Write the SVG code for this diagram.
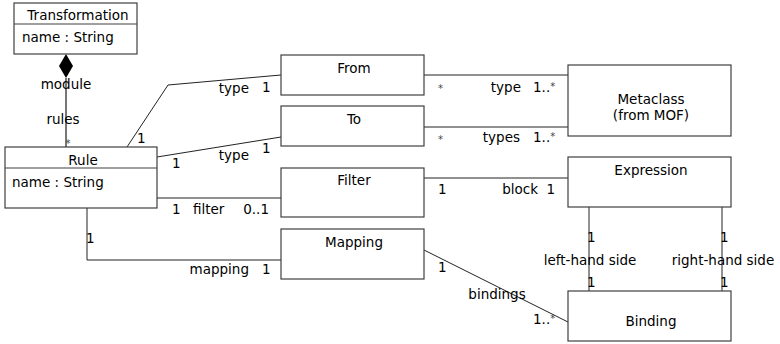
<svg xmlns="http://www.w3.org/2000/svg" width="780" height="344" viewBox="0 0 780 344">
  <style>
    .box { fill: #fff; stroke: #404040; stroke-width: 1.2; }
    .div { stroke: #404040; stroke-width: 1.2; }
    .ln { fill: none; stroke: #222; stroke-width: 1; }
    text { font-family: "DejaVu Sans", "Liberation Sans", sans-serif; font-size: 13.5px; fill: #000; }
    .c { text-anchor: middle; }
    .e { text-anchor: end; }
    .star { font-size: 10px; fill: #444; }
  </style>
  <rect width="780" height="344" fill="#fff"/>

  <!-- associations -->
  <g id="connectors">
    <!-- composition Transformation <>- Rule -->
    <line x1="66" y1="78" x2="66" y2="147" stroke="#777" stroke-width="2"/>
    <polygon points="66,54 73,66 66,78 59,66" fill="#000"/>
    <text class="c" x="66" y="89">module</text>
    <text class="c" x="63" y="124">rules</text>
    <text class="c star" x="68" y="147">*</text>

    <!-- Rule - From -->
    <polyline class="ln" points="127,147 168,85 281,75"/>
    <text x="137" y="143">1</text>
    <text class="e" x="249" y="93">type</text>
    <text x="262" y="92">1</text>

    <!-- Rule - To -->
    <line class="ln" x1="157" y1="157" x2="281" y2="137"/>
    <text x="172" y="168">1</text>
    <text class="e" x="249" y="160">type</text>
    <text x="262" y="153">1</text>

    <!-- Rule - Filter -->
    <line class="ln" x1="157" y1="198" x2="281" y2="198"/>
    <text x="172" y="214">1</text>
    <text x="193" y="214">filter</text>
    <text class="e" x="269" y="214">0..1</text>

    <!-- Rule - Mapping -->
    <polyline class="ln" points="87,208 87,260 281,260"/>
    <text x="86" y="243">1</text>
    <text class="e" x="249" y="274">mapping</text>
    <text x="262" y="274">1</text>

    <!-- From - Metaclass -->
    <line class="ln" x1="424" y1="75" x2="568" y2="75"/>
    <text class="star" x="438" y="92">*</text>
    <text class="e" x="521" y="92">type</text>
    <text x="533" y="92">1..<tspan class="star" dy="-2">*</tspan></text>

    <!-- To - Metaclass -->
    <line class="ln" x1="424" y1="127" x2="568" y2="127"/>
    <text class="star" x="438" y="143">*</text>
    <text class="e" x="520" y="142">types</text>
    <text x="533" y="142">1..<tspan class="star" dy="-2">*</tspan></text>

    <!-- Filter - Expression -->
    <line class="ln" x1="424" y1="178" x2="568" y2="178"/>
    <text x="438" y="194">1</text>
    <text class="e" x="538" y="194">block</text>
    <text class="e" x="555" y="194">1</text>

    <!-- Expression - Binding (left-hand side) -->
    <line class="ln" x1="589" y1="207" x2="589" y2="291"/>
    <text x="587" y="242">1</text>
    <text class="c" x="590" y="265">left-hand side</text>
    <text x="587" y="287">1</text>

    <!-- Expression - Binding (right-hand side) -->
    <line class="ln" x1="722" y1="207" x2="722" y2="291"/>
    <text x="720" y="242">1</text>
    <text class="c" x="723" y="265">right-hand side</text>
    <text x="720" y="287">1</text>

    <!-- Mapping - Binding -->
    <line class="ln" x1="424" y1="250" x2="568" y2="322"/>
    <text x="438" y="272">1</text>
    <text class="c" x="497" y="299">bindings</text>
    <text x="533" y="324">1..<tspan class="star" dy="-2">*</tspan></text>
  </g>

  <g id="transformation">
    <rect class="box" x="14" y="3" width="123" height="51"/>
    <line class="div" x1="14" y1="24" x2="137" y2="24"/>
    <text class="c" x="78" y="20">Transformation</text>
    <text x="22" y="42">name : String</text>
  </g>

  <g id="rule">
    <rect class="box" x="5" y="147" width="152" height="61"/>
    <line class="div" x1="5" y1="168" x2="157" y2="168"/>
    <text class="c" x="83" y="165">Rule</text>
    <text x="12" y="187">name : String</text>
  </g>

  <g id="from">
    <rect class="box" x="281" y="55" width="143" height="40"/>
    <text class="c" x="354" y="73">From</text>
  </g>

  <g id="to">
    <rect class="box" x="281" y="106" width="143" height="40"/>
    <text class="c" x="354" y="124">To</text>
  </g>

  <g id="filter">
    <rect class="box" x="281" y="168" width="143" height="49"/>
    <text class="c" x="354" y="185">Filter</text>
  </g>

  <g id="mapping">
    <rect class="box" x="281" y="229" width="143" height="50"/>
    <text class="c" x="354" y="247">Mapping</text>
  </g>

  <g id="metaclass">
    <rect class="box" x="568" y="65" width="163" height="71"/>
    <text class="c" x="651" y="104">Metaclass</text>
    <text class="c" x="651" y="120">(from MOF)</text>
  </g>

  <g id="expression">
    <rect class="box" x="568" y="157" width="163" height="50"/>
    <text class="c" x="651" y="175">Expression</text>
  </g>

  <g id="binding">
    <rect class="box" x="568" y="291" width="163" height="50"/>
    <text class="c" x="651" y="326">Binding</text>
  </g>
</svg>
